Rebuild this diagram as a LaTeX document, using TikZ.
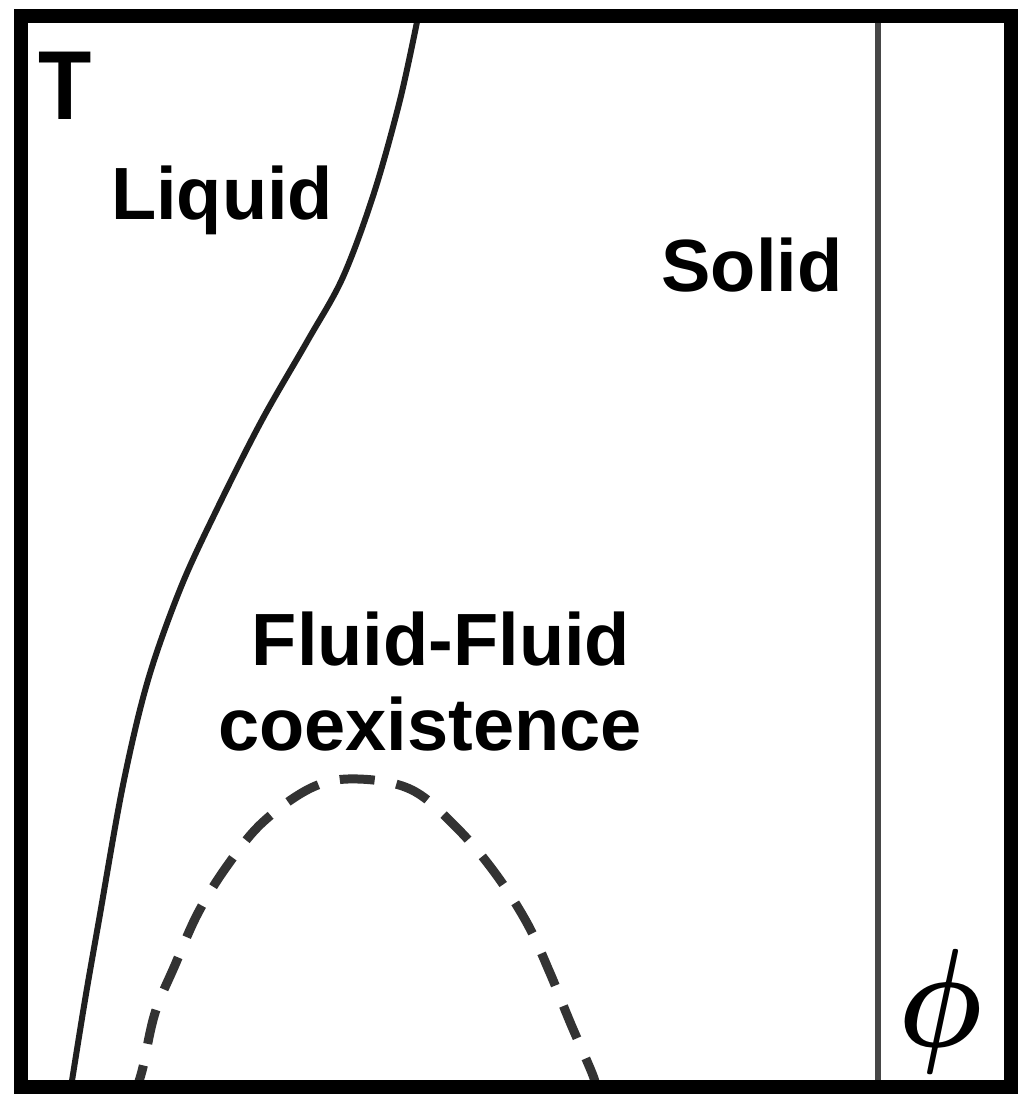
\documentclass[tikz,border=0pt]{standalone}
\usepackage{fontspec}
\setmainfont{Liberation Sans}
\usepackage{amsmath}
\begin{document}
\begin{tikzpicture}[x=0.5pt,y=-0.5pt,
  lbl/.style={font=\bfseries\fontsize{37}{42}\selectfont, inner sep=0pt, anchor=base},
  frameline/.style={line width=7pt, draw=black},
  boundary/.style={line width=3pt, draw=black!88, line cap=round},
  solidline/.style={line width=2.8pt, draw=black!72},
  spinodal/.style={line width=4.5pt, draw=black!80, dash pattern=on 17.5pt off 11pt, dash phase=6.25pt}]
\useasboundingbox (0,0) rectangle (1024,1106);
\fill[white] (0,0) rectangle (1024,1106);

% liquid boundary
\draw[boundary] plot[smooth, tension=0.55] coordinates {(418,17) (400,100) (374,193) (343,277) (308,340) (262,420) (218,507) (181,587) (148,680) (123,785) (99,920) (85,1000) (71,1087)};

% fluid-fluid coexistence (dashed)
\draw[spinodal] plot[smooth, tension=0.6] coordinates {(137,1087) (143,1067) (155,1013) (175,965) (198,913) (227,866) (263,822) (313,787) (358,779) (412,790) (457,828) (495,873) (527,923) (550,973) (570,1022) (592,1073) (596,1087)};

% solid boundary
\coordinate (stop) at (878,17);
\coordinate (sbot) at (878,1087);
\draw[solidline] (stop) -- (sbot);

% labels
\node[inner sep=0pt, anchor=base, xscale=0.89, font=\bfseries\fontsize{49}{52}\selectfont] (T) at (65,120) {T};
\node[lbl] (liq) at (222,220) {Liquid};
\node[lbl] (sol) at (752,292) {Solid};
\node[lbl] (ff) at (441,665) {Fluid-Fluid};
\node[lbl] (coex) at (430,750) {coexistence};
\node[inner sep=0pt, xscale=5.9, yscale=7.0] (phi) at (941,1011) {$\boldsymbol{\phi}$};

% frame
\draw[frameline] (20.5,16.5) rectangle (1011,1087);
\end{tikzpicture}
\end{document}
